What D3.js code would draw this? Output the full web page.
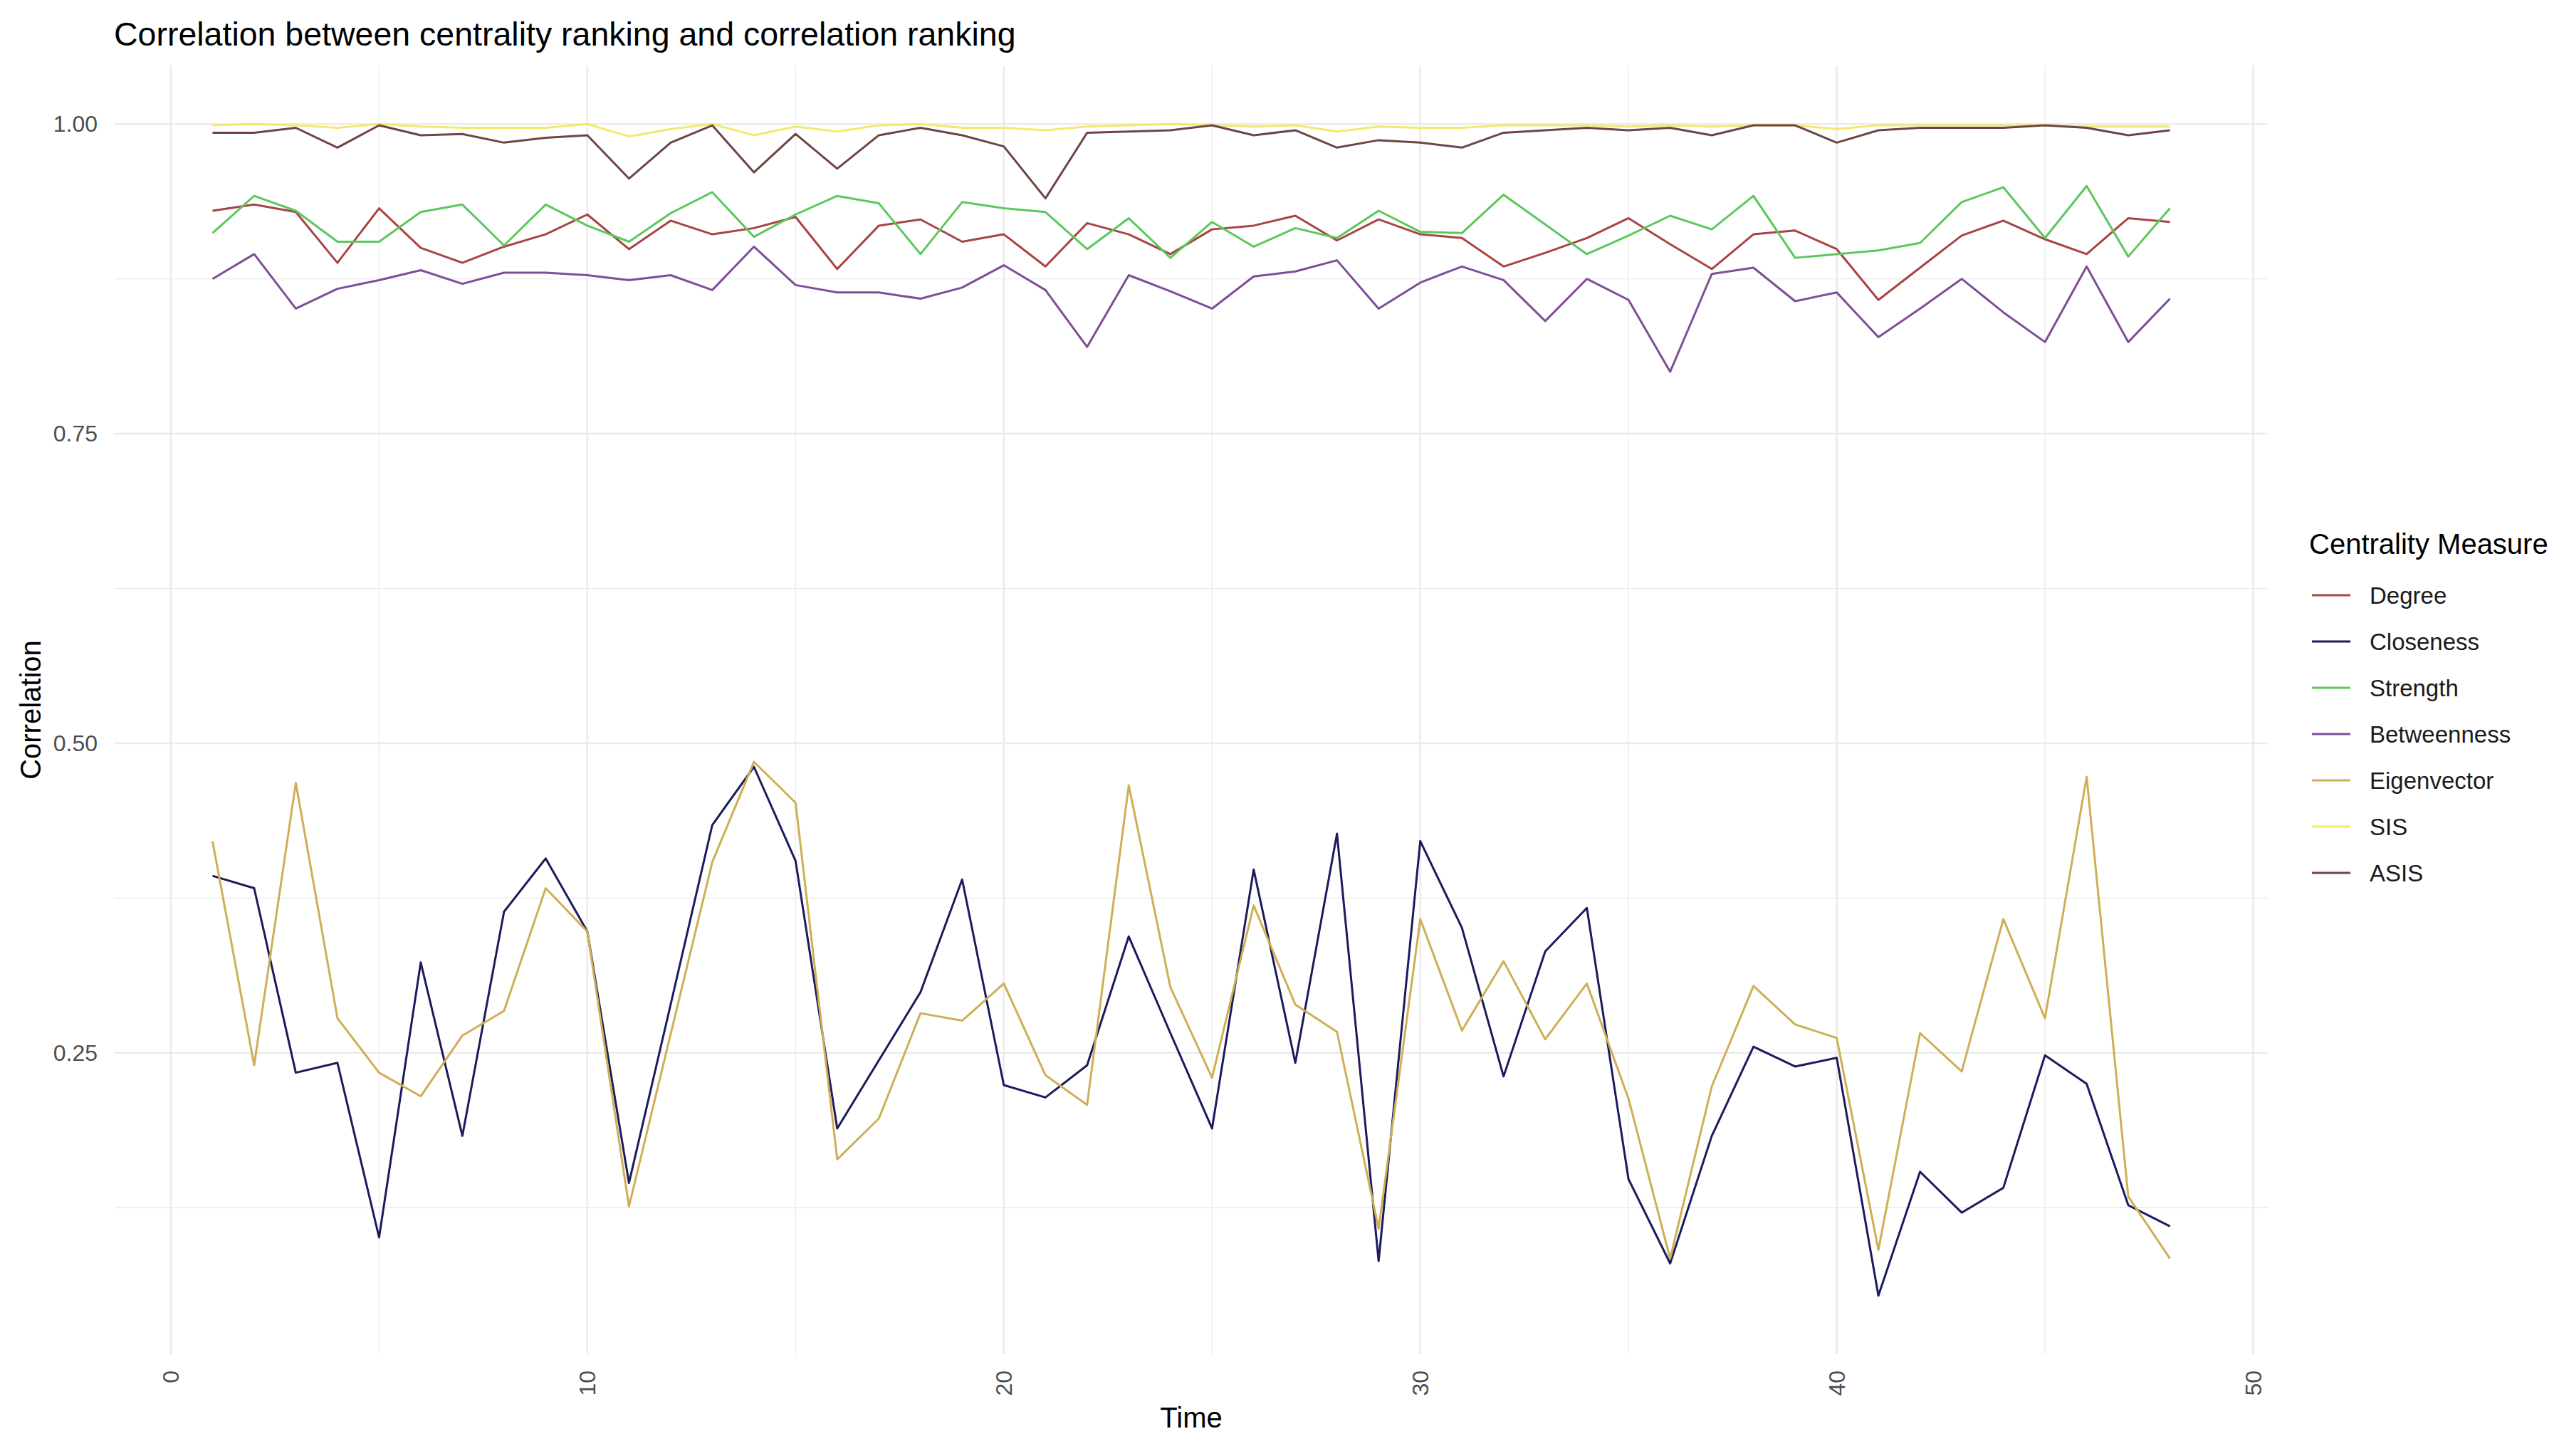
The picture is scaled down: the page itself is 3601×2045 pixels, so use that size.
<!DOCTYPE html>
<html>
<head>
<meta charset="utf-8">
<script src="https://cdn.jsdelivr.net/npm/d3@7"></script>
<style>
  html, body { margin: 0; padding: 0; background: #fff; }
  svg { display: block; font-family: "Liberation Sans", Arial, sans-serif; }
</style>
</head>
<body>
<svg id="chart" width="3601" height="2045"></svg>
<script>
// time steps 1..48
const time = d3.range(1, 49)

const measures = ['Degree', 'Closeness', 'Strength', 'Betweenness', 'Eigenvector', 'SIS', 'ASIS']
const colors = ['#a84444', '#1b1b5e', '#5cc85c', '#7e4e96', '#cfae55', '#f2ea6c', '#6e4545']

const degree = [0.930,0.935,0.929,0.888,0.932,0.900,0.888,0.901,0.911,0.927,0.899,0.922,0.911,0.916,0.925,0.883,
  0.918,0.923,0.905,0.911,0.885,0.920,0.911,0.895,0.915,0.918,0.926,0.906,0.923,0.911,0.908,0.885,
  0.896,0.908,0.924,0.903,0.883,0.911,0.914,0.899,0.858,0.884,0.910,0.922,0.907,0.895,0.924,0.921]
const closeness = [0.393,0.383,0.234,0.242,0.101,0.323,0.183,0.364,0.407,0.348,0.145,0.289,0.434,0.481,0.405,0.189,
  0.244,0.299,0.390,0.224,0.214,0.240,0.344,0.266,0.189,0.398,0.242,0.427,0.082,0.421,0.351,0.231,
  0.332,0.367,0.148,0.080,0.183,0.255,0.239,0.246,0.054,0.154,0.121,0.141,0.248,0.225,0.127,0.110]
const strength = [0.912,0.942,0.930,0.905,0.905,0.929,0.935,0.902,0.935,0.918,0.905,0.928,0.945,0.909,0.927,0.942,
  0.936,0.895,0.937,0.932,0.929,0.899,0.924,0.892,0.921,0.901,0.916,0.908,0.930,0.913,0.912,0.943,
  0.919,0.895,0.910,0.926,0.915,0.942,0.892,0.895,0.898,0.904,0.937,0.949,0.908,0.950,0.893,0.932]
const betweenness = [0.875,0.895,0.851,0.867,0.874,0.882,0.871,0.880,0.880,0.878,0.874,0.878,0.866,0.901,0.870,0.864,
  0.864,0.859,0.868,0.886,0.866,0.820,0.878,0.865,0.851,0.877,0.881,0.890,0.851,0.872,0.885,0.874,
  0.841,0.875,0.858,0.800,0.879,0.884,0.857,0.864,0.828,0.851,0.875,0.848,0.824,0.885,0.824,0.859]
const eigenvector = [0.421,0.240,0.468,0.278,0.234,0.215,0.264,0.284,0.383,0.348,0.126,0.265,0.404,0.485,0.452,0.164,
  0.197,0.282,0.276,0.306,0.232,0.208,0.466,0.303,0.230,0.369,0.289,0.267,0.108,0.358,0.268,0.324,
  0.261,0.306,0.213,0.084,0.223,0.304,0.273,0.262,0.091,0.266,0.235,0.358,0.278,0.473,0.134,0.084]
const sis = [0.999,1.000,0.999,0.997,1.000,0.998,0.997,0.997,0.997,1.000,0.990,0.996,1.000,0.991,0.998,0.994,
  0.999,1.000,0.997,0.997,0.995,0.998,0.999,1.000,0.999,0.998,0.999,0.994,0.998,0.997,0.997,0.999,
  0.999,0.999,0.998,0.999,0.998,0.999,0.999,0.996,0.999,0.999,0.999,0.999,0.999,0.998,0.998,0.998]
const asis = [0.993,0.993,0.997,0.981,0.999,0.991,0.992,0.985,0.989,0.991,0.956,0.985,0.999,0.961,0.992,0.964,
  0.991,0.997,0.991,0.982,0.940,0.993,0.994,0.995,0.999,0.991,0.995,0.981,0.987,0.985,0.981,0.993,
  0.995,0.997,0.995,0.997,0.991,0.999,0.999,0.985,0.995,0.997,0.997,0.997,0.999,0.997,0.991,0.995]

const xTicks = [0, 10, 20, 30, 40, 50]
const xMinor = [5, 15, 25, 35, 45]
const yTicks = [0.25, 0.50, 0.75, 1.00]
const yMinor = [0.125, 0.375, 0.625, 0.875]

const seriesValues = [degree, closeness, strength, betweenness, eigenvector, sis, asis]
const series = measures.map((name, i) => ({
  name, color: colors[i],
  values: time.map((t, j) => ({t, v: seriesValues[i][j]}))
}))

// ggplot style 5% expansion
function expand(ext) {
  const r = ext[1] - ext[0]
  return [ext[0] - r * 0.05, ext[1] + r * 0.05]
}
const allV = seriesValues.flat()
const panel = {left: 161, right: 3185, top: 92, bottom: 1902}

const x = d3.scaleLinear().domain(expand(d3.extent(time))).range([panel.left, panel.right])
const y = d3.scaleLinear().domain(expand(d3.extent(allV))).range([panel.bottom, panel.top])

const svg = d3.select('#chart')
svg.append('rect').attr('width', 3601).attr('height', 2045).attr('fill', '#fff')

const grid = svg.append('g')
grid.selectAll('.ymin').data(yMinor).join('line')
  .attr('x1', panel.left).attr('x2', panel.right)
  .attr('y1', d => y(d)).attr('y2', d => y(d))
  .attr('stroke', '#ebebeb').attr('stroke-width', 1.3)
grid.selectAll('.xmin').data(xMinor).join('line')
  .attr('y1', panel.top).attr('y2', panel.bottom)
  .attr('x1', d => x(d)).attr('x2', d => x(d))
  .attr('stroke', '#ebebeb').attr('stroke-width', 1.3)
grid.selectAll('.ymaj').data(yTicks).join('line')
  .attr('x1', panel.left).attr('x2', panel.right)
  .attr('y1', d => y(d)).attr('y2', d => y(d))
  .attr('stroke', '#ebebeb').attr('stroke-width', 2.6)
grid.selectAll('.xmaj').data(xTicks).join('line')
  .attr('y1', panel.top).attr('y2', panel.bottom)
  .attr('x1', d => x(d)).attr('x2', d => x(d))
  .attr('stroke', '#ebebeb').attr('stroke-width', 2.6)

// lines
const line = d3.line().x(d => x(d.t)).y(d => y(d.v))
svg.append('g').selectAll('path').data(series).join('path')
  .attr('d', d => line(d.values))
  .attr('fill', 'none')
  .attr('stroke', d => d.color)
  .attr('stroke-width', 3)
  .attr('stroke-linejoin', 'round')

// axis labels
svg.append('g').selectAll('text').data(yTicks).join('text')
  .attr('x', 137).attr('y', d => y(d))
  .attr('text-anchor', 'end').attr('dominant-baseline', 'central')
  .attr('font-size', 32).attr('fill', '#4d4d4d')
  .text(d3.format('.2f'))

svg.append('g').selectAll('text').data(xTicks).join('text')
  .attr('transform', d => `translate(${x(d)},1925) rotate(-90)`)
  .attr('text-anchor', 'end').attr('dominant-baseline', 'central')
  .attr('font-size', 32).attr('fill', '#4d4d4d')
  .text(d => d)

svg.append('text')
  .attr('x', (panel.left + panel.right) / 2).attr('y', 2005)
  .attr('text-anchor', 'middle').attr('font-size', 40).attr('fill', '#000')
  .text('Time')

svg.append('text')
  .attr('transform', `translate(57,${(panel.top + panel.bottom) / 2}) rotate(-90)`)
  .attr('text-anchor', 'middle').attr('font-size', 40).attr('fill', '#000')
  .text('Correlation')

svg.append('text')
  .attr('x', 160).attr('y', 64)
  .attr('font-size', 46.5).attr('fill', '#000')
  .text('Correlation between centrality ranking and correlation ranking')

// legend
const legend = svg.append('g')
legend.append('text')
  .attr('x', 3243).attr('y', 778)
  .attr('font-size', 40).attr('fill', '#000')
  .text('Centrality Measure')
const item = legend.selectAll('.item').data(series).join('g')
  .attr('transform', (d, i) => `translate(0,${836 + i * 65})`)
item.append('line')
  .attr('x1', 3247).attr('x2', 3301)
  .attr('stroke', d => d.color).attr('stroke-width', 3)
item.append('text')
  .attr('x', 3328).attr('dominant-baseline', 'central')
  .attr('font-size', 33).attr('fill', '#1a1a1a')
  .text(d => d.name)
</script>
</body>
</html>
